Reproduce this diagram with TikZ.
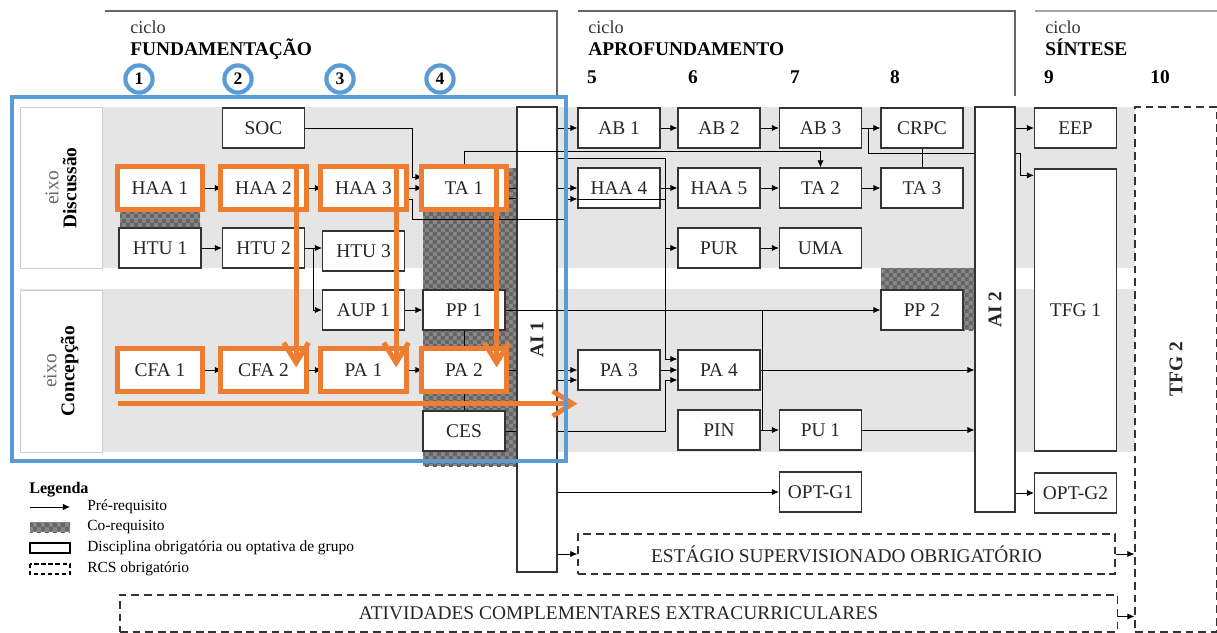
\documentclass[tikz,border=0pt]{standalone}
\usepackage{fontspec}
\setmainfont{Liberation Serif}
\usetikzlibrary{positioning,arrows.meta,calc,patterns}
\definecolor{hlorange}{HTML}{ED7D31}
\definecolor{hlblue}{HTML}{5B9BD5}
\colorlet{band}{black!10}
\colorlet{coreq}{black!47}
\colorlet{rule}{black!60}
\pgfdeclarepatternformonly{finecheck}{\pgfpointorigin}{\pgfqpoint{6pt}{6pt}}{\pgfqpoint{6pt}{6pt}}
  {\pgfpathrectangle{\pgfpointorigin}{\pgfqpoint{3pt}{3pt}}
   \pgfpathrectangle{\pgfqpoint{3pt}{3pt}}{\pgfqpoint{3pt}{3pt}}
   \pgfusepath{fill}}

\begin{document}
\begin{tikzpicture}[x=0.025cm, y=-0.025cm,
    disc/.style={draw=black!80, line width=0.9pt, fill=white, inner sep=0pt,
                 minimum width=2.05cm, minimum height=1cm, text=black!85,
                 font=\fontsize{13.8}{16}\selectfont},
    tall/.style={disc, minimum width=1cm, font=\fontsize{13.8}{16}\selectfont\bfseries},
    rcs/.style={disc, dash pattern=on 5.5pt off 3.5pt},
    axis/.style={draw=black!20, fill=white, minimum width=2.05cm, inner sep=0pt,
                 font=\fontsize{13.8}{16}\selectfont},
    arr/.style={-{Latex[length=5pt,width=4.5pt]}, line width=0.6pt},
    link/.style={line width=0.6pt},
    coreqfill/.style={fill=coreq, postaction={pattern=finecheck, pattern color=black!60}},
    hl/.style={draw=hlorange, line width=3.5pt},
    hlarr/.style={hl, -{Straight Barb[length=0.5cm, width=0.62cm]}},
    circ/.style={circle, draw=hlblue, line width=3pt, fill=white, inner sep=0pt,
                 minimum size=0.68cm, font=\fontsize{12.5}{14}\selectfont\bfseries},
    hdr/.style={draw=rule, line width=1.4pt},
    cyc/.style={anchor=base west, inner sep=0pt, font=\fontsize{13}{15}\selectfont, text=black!80},
    cycname/.style={anchor=base west, inner sep=0pt, font=\fontsize{13.8}{16}\selectfont\bfseries},
    sem/.style={font=\fontsize{13.8}{16}\selectfont\bfseries},
    legtxt/.style={anchor=west, inner sep=0pt, font=\fontsize{11}{13}\selectfont},
  ]
  \useasboundingbox (0,0) rectangle (1217,632);

  \fill[band] (20,107) rectangle (1135,268);
  \fill[band] (20,289) rectangle (1135,452);
  \fill[coreqfill] (120,211) rectangle (200,228);
  \fill[coreqfill] (423,168) rectangle (517,466);
  \fill[coreqfill] (881,268) rectangle (975,330);

  \draw[hdr] (105,11) -- (557,11) -- (557,96);
  \draw[hdr] (578,11) -- (1015,11) -- (1015,96);
  \draw[hdr, draw=black!35] (1035,11) -- (1217,11);
  \node[cyc] (c1) at (130,33) {ciclo};
  \node[cycname] (fund) at (130,55) {FUNDAMENTAÇÃO};
  \node[cyc] (c2) at (588,33) {ciclo};
  \node[cycname] (apro) at (588,55) {APROFUNDAMENTO};
  \node[cyc] (c3) at (1045,33) {ciclo};
  \node[cycname] (sint) at (1045,55) {SÍNTESE};
  \node[sem] (s5) at (592,77) {5};
  \node[sem] (s6) at (693,77) {6};
  \node[sem] (s7) at (795,77) {7};
  \node[sem] (s8) at (895,77) {8};
  \node[sem] (s9) at (1049,77) {9};
  \node[sem] (s10) at (1160,77) {10};

  \node[axis, minimum height=4.025cm] (eixod) at (61,188)
    {\rotatebox{90}{\shortstack{{\color{black!60}eixo}\\\textbf{Discussão}}}};
  \node[axis, minimum height=4.05cm] (eixoc) at (61,371)
    {\rotatebox{90}{\shortstack{{\color{black!60}eixo}\\\textbf{Concepção}}}};

  \node[disc] (soc) at (263.5,128) {SOC};
  \node[disc] (haa1) at (160,188) {HAA 1};
  \node[disc] (haa2) at (263.5,188) {HAA 2};
  \node[disc] (haa3) at (363.5,188) {HAA 3};
  \node[disc] (ta1) at (464,188) {TA 1};
  \node[disc] (htu1) at (160,248) {HTU 1};
  \node[disc] (htu2) at (263.5,248) {HTU 2};
  \node[disc] (htu3) at (363.5,251) {HTU 3};
  \node[disc] (aup1) at (363.5,310) {AUP 1};
  \node[disc] (pp1) at (464,310) {PP 1};
  \node[disc] (cfa1) at (160,370) {CFA 1};
  \node[disc] (cfa2) at (263.5,370) {CFA 2};
  \node[disc] (pa1) at (363.5,370) {PA 1};
  \node[disc] (pa2) at (464,370) {PA 2};
  \node[disc] (ces) at (464,431) {CES};
  \node[tall, minimum height=11.625cm] (ai1) at (537,339.5) {\rotatebox{90}{AI 1}};

  \node[disc] (ab1) at (619,128) {AB 1};
  \node[disc] (ab2) at (719,128) {AB 2};
  \node[disc] (ab3) at (820.5,128) {AB 3};
  \node[disc] (crpc) at (922,128) {CRPC};
  \node[disc] (haa4) at (619,188) {HAA 4};
  \node[disc] (haa5) at (719,188) {HAA 5};
  \node[disc] (ta2) at (820.5,188) {TA 2};
  \node[disc] (ta3) at (922,188) {TA 3};
  \node[disc] (pur) at (719,248) {PUR};
  \node[disc] (uma) at (820.5,248) {UMA};
  \node[disc] (pp2) at (922,310) {PP 2};
  \node[disc] (pa3) at (619,370) {PA 3};
  \node[disc] (pa4) at (719,370) {PA 4};
  \node[disc] (pin) at (719,430) {PIN};
  \node[disc] (pu1) at (820.5,430) {PU 1};
  \node[disc] (optg1) at (820.5,492) {OPT-G1};
  \node[tall, minimum height=10.125cm] (ai2) at (995,309.5) {\rotatebox{90}{AI 2}};

  \node[disc] (eep) at (1075.5,128) {EEP};
  \node[disc, minimum height=7.05cm] (tfg1) at (1075.5,310) {TFG 1};
  \node[disc] (optg2) at (1075.5,493) {OPT-G2};
  \node[rcs, minimum height=13.125cm, font=\fontsize{13.8}{16}\selectfont\bfseries] (tfg2)
    at (1176,369.5) {\rotatebox{90}{TFG 2}};
  \node[rcs, minimum width=13.425cm] (estagio) at (846.5,554)
    {ESTÁGIO SUPERVISIONADO OBRIGATÓRIO};
  \node[rcs, minimum width=24.925cm, minimum height=0.925cm] (ativ) at (618.5,613.5)
    {ATIVIDADES COMPLEMENTARES EXTRACURRICULARES};

  \draw[arr] (haa1) -- (haa2);
  \draw[arr] (haa2) -- (haa3);
  \draw[arr] (haa3) -- (ta1);
  \draw[arr] (soc.east) -- ++(107,0) |- ($(ta1.west)+(0,-11)$);
  \draw[arr] (htu1) -- (htu2);
  \draw[arr] (htu2.east) -- (htu2.east -| htu3.west);
  \draw[arr] ($(htu2.east)+(8,0)$) |- (aup1.west);
  \draw[arr] (aup1) -- (pp1);
  \draw[arr] (cfa1) -- (cfa2);
  \draw[arr] (cfa2) -- (pa1);
  \draw[arr] (pa1) -- (pa2);
  \draw[link] (pp1) -- (pa2);
  \draw[link] (pa2) -- (ces);

  \draw[link] (ta1.east) -- (ta1.east -| ai1.west);
  \draw[link] ($(ta1.east)+(0,10)$) -- ($(ta1.east -| ai1.west)+(0,10)$);
  \draw[link] (pa2.east) -- (pa2.east -| ai1.west);
  \draw[link] (ces.east) -- (ces.east -| ai1.west);
  \draw[arr] ($(haa3.east)+(0,11)$) -- ++(7,0) -- ++(0,20) -- ++(153,0) |- ($(haa4.west)+(0,11)$);
  \draw[link] ($(haa4.west)+(0,11)$) -- ++(88,0);
  \draw[arr] (ta1.north) -- ++(0,-16) -| (ta2.north);
  \draw[arr] (ai1.east |- ab1) -- (ab1);
  \draw[arr] (ai1.east |- haa4) -- (haa4);
  \draw[arr] ($(ai1.east |- haa4.north)+(0,-9)$) -| ($(pur.west)+(-12,0)$) -- (pur.west);
  \draw[arr] ($(pur.west)+(-12,0)$) |- ($(pa4.west)+(0,-11)$);
  \draw[arr] (ai1.east |- ces) -| ($(pa4.west)+(-12,10)$) -- ($(pa4.west)+(0,10)$);
  \draw[arr] (ai1.east |- pa3) -- (pa3);
  \draw[arr] ($(ai1.east |- pa3)+(0,10)$) -- ($(pa3.west)+(0,10)$);
  \draw[arr] (pp1) -- (pp2);
  \draw[link] ($(pa4.east |- pp1)+(2,0)$) -- ($(pa4.east |- pu1)+(2,0)$);
  \draw[arr] (ai1.east |- optg1) -- (optg1);
  \draw[arr] (ai1.east |- estagio) -- (estagio);

  \draw[arr] (ab1) -- (ab2);
  \draw[arr] (ab2) -- (ab3);
  \draw[arr] (ab3) -- (crpc);
  \draw[arr] (haa4) -- (haa5);
  \draw[arr] (haa5) -- (ta2);
  \draw[arr] (ta2) -- (ta3);
  \draw[link] (crpc) -- (ta3);
  \draw[arr] (pur) -- (uma);
  \draw[arr] (pa3) -- (pa4);
  \draw[arr] (pin) -- (pu1);
  \draw[arr] (pa4) -- (pa4 -| ai2.west);
  \draw[arr] (pu1) -- (pu1 -| ai2.west);
  \draw[link] ($(ab3.east)+(6,0)$) |- ($(ai2.west |- crpc.south)+(0,5)$);
  \draw[arr] ($(ai2.east |- crpc.south)+(0,5)$) -- ++(5,0) |- ($(tfg1.north west)+(0,7)$);
  \draw[arr] (ai2.east |- eep) -- (eep);
  \draw[arr] (ai2.east |- optg2) -- (optg2);
  \draw[arr] (estagio) -- (estagio -| tfg2.west);
  \draw[arr] ($(ativ.east)+(0,3)$) -- ($(ativ.east -| tfg2.west)+(0,3)$);

  \draw[hl] ([shift={(-0.7pt,-0.7pt)}]haa1.south west) rectangle ([shift={(0.7pt,0.7pt)}]haa1.north east);
  \draw[hl] ([shift={(-0.7pt,-0.7pt)}]haa2.south west) rectangle ([shift={(0.7pt,0.7pt)}]haa2.north east);
  \draw[hl] ([shift={(-0.7pt,-0.7pt)}]haa3.south west) rectangle ([shift={(0.7pt,0.7pt)}]haa3.north east);
  \draw[hl] ([shift={(-0.7pt,-0.7pt)}]ta1.south west) rectangle ([shift={(0.7pt,0.7pt)}]ta1.north east);
  \draw[hl] ([shift={(-0.7pt,-0.7pt)}]cfa1.south west) rectangle ([shift={(0.7pt,0.7pt)}]cfa1.north east);
  \draw[hl] ([shift={(-0.7pt,-0.7pt)}]cfa2.south west) rectangle ([shift={(0.7pt,0.7pt)}]cfa2.north east);
  \draw[hl] ([shift={(-0.7pt,-0.7pt)}]pa1.south west) rectangle ([shift={(0.7pt,0.7pt)}]pa1.north east);
  \draw[hl] ([shift={(-0.7pt,-0.7pt)}]pa2.south west) rectangle ([shift={(0.7pt,0.7pt)}]pa2.north east);
  \draw[hlarr] ($(haa2.north east)+(-9,0)$) -- ($(cfa2.north east)+(-9,18)$);
  \draw[hlarr] ($(haa3.north east)+(-9,0)$) -- ($(pa1.north east)+(-9,18)$);
  \draw[hlarr] ($(ta1.north east)+(-9,0)$) -- ($(pa2.north east)+(-9,18)$);
  \draw[hlarr] ($(cfa1.south west)+(0,13)$) -- ($(pa3.west |- cfa1.south)+(0,13)$);

  \draw[hlblue, line width=2.8pt] (12,97) rectangle (566,461);
  \node[circ] (n1) at (139,79) {1};
  \node[circ] (n2) at (238,79) {2};
  \node[circ] (n3) at (340,79) {3};
  \node[circ] (n4) at (440,79) {4};

  \node[anchor=base west, inner sep=0pt, font=\fontsize{11.5}{13}\selectfont\bfseries] (leg) at (29,493) {Legenda};
  \node[legtxt] (lpre) at (87,507) {Pré-requisito};
  \node[legtxt] (lco) at (87,527) {Co-requisito};
  \node[legtxt] (ldisc) at (87,548) {Disciplina obrigatória ou optativa de grupo};
  \node[legtxt] (lrcs) at (87,569) {RCS obrigatório};
  \draw[arr] ($(lpre.west)+(-57,0)$) -- ($(lpre.west)+(-17,0)$);
  \fill[coreqfill] ($(lco.west)+(-57,-5)$) rectangle ($(lco.west)+(-17,5)$);
  \draw[line width=0.8pt] ($(ldisc.west)+(-57,-5)$) rectangle ($(ldisc.west)+(-17,5)$);
  \draw[line width=0.8pt, dash pattern=on 3pt off 2pt] ($(lrcs.west)+(-57,-5)$) rectangle ($(lrcs.west)+(-17,5)$);
\end{tikzpicture}
\end{document}
